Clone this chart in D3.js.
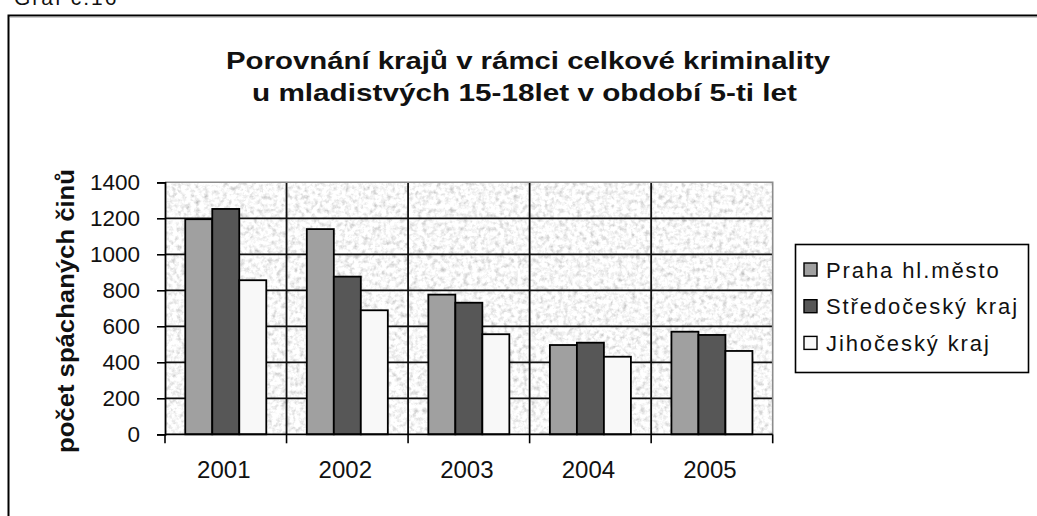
<!DOCTYPE html>
<html>
<head>
<meta charset="utf-8">
<script src="https://cdnjs.cloudflare.com/ajax/libs/d3/7.8.5/d3.min.js"></script>
<style>
  body { margin: 0; background: #fff; }
  svg { display: block; }
  text { font-family: "Liberation Sans", Arial, sans-serif; fill: #111; }
</style>
</head>
<body>
<div id="chart"></div>
<script>
// data
var years       = ["2001", "2002", "2003", "2004", "2005"];
var seriesNames = ["Praha hl.město", "Středočeský kraj", "Jihočeský kraj"];
var praha       = [1195, 1140, 776, 496, 570];
var stredocesky = [1252, 876, 731, 509, 552];
var jihocesky   = [856, 689, 556, 431, 463];
var yTicks      = [0, 200, 400, 600, 800, 1000, 1200, 1400];

var titleLines  = ["Porovnání krajů v rámci celkové kriminality",
                   "u mladistvých 15-18let v období 5-ti let"];
var yTitle      = "počet spáchaných činů";

var colors = ["#a0a0a0", "#575757", "#f8f8f8"];
var series = [praha, stredocesky, jihocesky];

var W = 1037, H = 516;
var plot = {left: 165, right: 772.7, top: 182.3, bottom: 434.3};

var svg = d3.select("#chart").append("svg")
  .attr("width", W)
  .attr("height", H);

// granite-like texture for plot background
var defs = svg.append("defs");
var filt = defs.append("filter")
  .attr("id", "granite")
  .attr("x", 0).attr("y", 0).attr("width", 1).attr("height", 1);
filt.append("feTurbulence")
  .attr("type", "fractalNoise")
  .attr("baseFrequency", 0.22)
  .attr("numOctaves", 3)
  .attr("seed", 5);
filt.append("feColorMatrix")
  .attr("type", "matrix")
  .attr("values", "0.6 0.6 0 0 0.33  0.6 0.6 0 0 0.33  0.6 0.6 0 0 0.33  0 0 0 0 1");

// frame and cut-off caption
svg.append("text")
  .attr("x", 14).attr("y", 5)
  .style("font-size", "21px")
  .style("letter-spacing", "2px")
  .text("Graf č.16");

svg.append("path")
  .attr("d", "M8.5," + H + "V15.5H" + W)
  .attr("fill", "none")
  .attr("stroke", "#000")
  .attr("stroke-width", 2);
svg.append("line")
  .attr("x1", 10).attr("x2", W)
  .attr("y1", 17).attr("y2", 17)
  .attr("stroke", "#999");

// title
svg.selectAll(".title")
  .data(titleLines)
  .enter().append("text")
  .attr("class", "title")
  .attr("x", function(d, i) { return i === 0 ? 226 : 252; })
  .attr("y", function(d, i) { return i === 0 ? 68.5 : 100.5; })
  .attr("textLength", function(d, i) { return i === 0 ? 604 : 545; })
  .attr("lengthAdjust", "spacingAndGlyphs")
  .style("font-size", "24px")
  .style("font-weight", "bold")
  .text(function(d) { return d; });

// scales
var x = d3.scaleBand()
  .domain(years)
  .range([plot.left, plot.right])
  .padding(0);

var xs = d3.scaleBand()
  .domain(d3.range(series.length))
  .range([0, x.bandwidth()])
  .paddingInner(0)
  .paddingOuter(0.75);

var y = d3.scaleLinear()
  .domain([0, 1400])
  .range([plot.bottom, plot.top]);

// plot background
svg.append("rect")
  .attr("x", plot.left).attr("y", plot.top)
  .attr("width", plot.right - plot.left)
  .attr("height", plot.bottom - plot.top)
  .attr("filter", "url(#granite)");

// horizontal gridlines
svg.selectAll(".hgrid")
  .data(yTicks.filter(function(d) { return d > 0 && d < 1400; }))
  .enter().append("line")
  .attr("class", "hgrid")
  .attr("x1", plot.left).attr("x2", plot.right)
  .attr("y1", function(d) { return y(d); })
  .attr("y2", function(d) { return y(d); })
  .attr("stroke", "#111")
  .attr("stroke-width", 1.8);

// vertical gridlines at category boundaries
svg.selectAll(".vgrid")
  .data(years.slice(1))
  .enter().append("line")
  .attr("class", "vgrid")
  .attr("x1", function(d) { return x(d); })
  .attr("x2", function(d) { return x(d); })
  .attr("y1", plot.top).attr("y2", plot.bottom)
  .attr("stroke", "#111")
  .attr("stroke-width", 1.8);

// plot border top/right (grey)
svg.append("path")
  .attr("d", "M" + plot.left + "," + plot.top + "H" + plot.right + "V" + plot.bottom)
  .attr("fill", "none")
  .attr("stroke", "#8c8c8c")
  .attr("stroke-width", 1.6);

// bars
var groups = svg.selectAll(".grp")
  .data(years)
  .enter().append("g")
  .attr("class", "grp")
  .attr("transform", function(d) { return "translate(" + x(d) + ",0)"; });

groups.selectAll("rect")
  .data(function(d, i) { return series.map(function(s, k) { return {k: k, v: s[i]}; }); })
  .enter().append("rect")
  .attr("x", function(d) { return xs(d.k); })
  .attr("width", xs.bandwidth())
  .attr("y", function(d) { return y(d.v); })
  .attr("height", function(d) { return y(0) - y(d.v); })
  .attr("fill", function(d) { return colors[d.k]; })
  .attr("stroke", "#000")
  .attr("stroke-width", 1.8);

// y axis
var yAxis = d3.axisLeft(y)
  .tickValues(yTicks)
  .tickFormat(d3.format("d"))
  .tickSize(8)
  .tickPadding(17);

var gy = svg.append("g")
  .attr("transform", "translate(" + plot.left + ",0)")
  .call(yAxis);
gy.select(".domain").attr("stroke", "#000").attr("stroke-width", 1.8);
gy.selectAll(".tick line").attr("stroke", "#000").attr("stroke-width", 1.6);
gy.selectAll("text")
  .style("font-size", "22.5px")
  .style("font-family", "'Liberation Sans', Arial, sans-serif")
  .attr("fill", "#111");

// x axis (labels only, ticks drawn at boundaries)
var xAxis = d3.axisBottom(x)
  .tickSize(0)
  .tickPadding(27);

var gx = svg.append("g")
  .attr("transform", "translate(0," + plot.bottom + ")")
  .call(xAxis);
gx.select(".domain").remove();
gx.selectAll("text")
  .attr("dx", -2)
  .style("font-size", "24px")
  .style("font-family", "'Liberation Sans', Arial, sans-serif")
  .attr("fill", "#111");

svg.append("line")
  .attr("x1", plot.left).attr("x2", plot.right)
  .attr("y1", plot.bottom).attr("y2", plot.bottom)
  .attr("stroke", "#000").attr("stroke-width", 1.8);

svg.selectAll(".xtick")
  .data(years.map(function(d) { return x(d); }).concat([plot.right]))
  .enter().append("line")
  .attr("class", "xtick")
  .attr("x1", function(d) { return d; })
  .attr("x2", function(d) { return d; })
  .attr("y1", plot.bottom).attr("y2", plot.bottom + 9)
  .attr("stroke", "#000").attr("stroke-width", 1.6);

// y axis title
svg.append("text")
  .attr("transform", "translate(74," + 311 + ") rotate(-90)")
  .attr("text-anchor", "middle")
  .attr("textLength", 284)
  .attr("lengthAdjust", "spacingAndGlyphs")
  .style("font-size", "23px")
  .style("font-weight", "bold")
  .text(yTitle);

// legend
var legend = svg.append("g");
legend.append("rect")
  .attr("x", 795.5).attr("y", 244.5)
  .attr("width", 233).attr("height", 128)
  .attr("fill", "#fff")
  .attr("stroke", "#000")
  .attr("stroke-width", 1.6);

var item = legend.selectAll(".item")
  .data(seriesNames)
  .enter().append("g")
  .attr("class", "item")
  .attr("transform", function(d, i) { return "translate(0," + (269.5 + i * 36.7) + ")"; });

item.append("rect")
  .attr("x", 804).attr("y", -6.5)
  .attr("width", 13).attr("height", 13)
  .attr("fill", function(d, i) { return colors[i]; })
  .attr("stroke", "#000")
  .attr("stroke-width", 1.4);

item.append("text")
  .attr("x", 826)
  .attr("y", 8)
  .style("font-size", "22px")
  .style("letter-spacing", "1.9px")
  .text(function(d) { return d; });
</script>
</body>
</html>
